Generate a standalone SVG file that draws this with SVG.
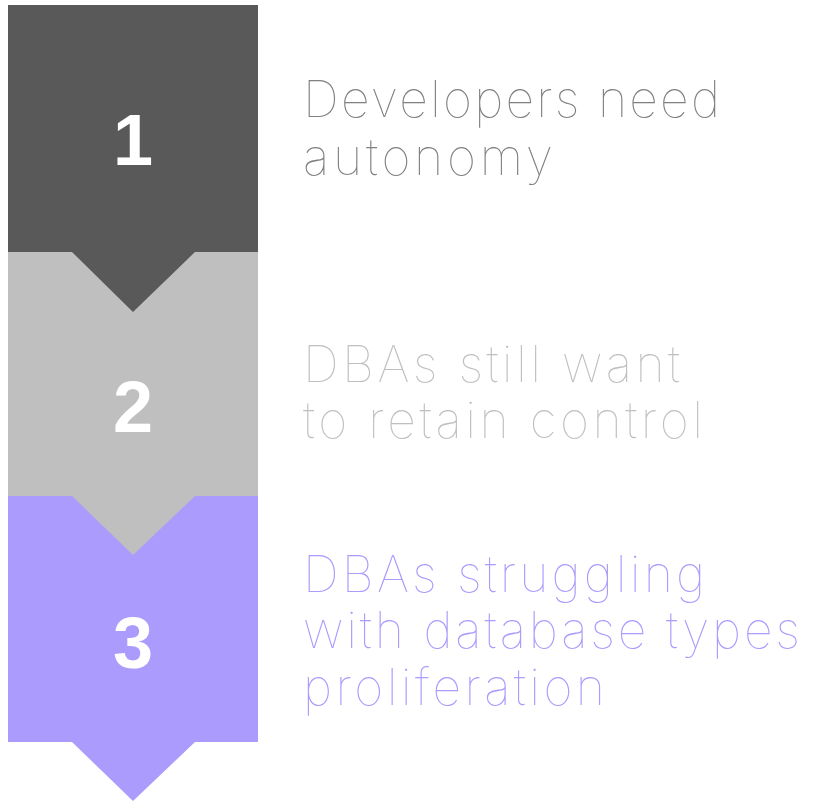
<svg xmlns="http://www.w3.org/2000/svg" width="820" height="802" viewBox="0 0 820 802">
<style>
.num{font-family:"Liberation Sans",Arial,sans-serif;font-weight:bold;font-size:72px;fill:#ffffff;text-anchor:middle}
.lbl{font-family:Inter,"Open Sans","Liberation Sans",sans-serif;font-weight:100;font-size:50px}
</style>
<rect width="820" height="802" fill="#ffffff"/>
<g id="step3">
<polygon points="8,496 258,496 258,742 195,742 133,801 72,742 8,742" fill="#ab9bfd"/>
<text class="num" x="133" y="668">3</text>
</g>
<g id="step2">
<polygon points="8,252 258,252 258,496 195,496 133,555 72,496 8,496" fill="#bfbfbf"/>
<text class="num" x="133" y="432">2</text>
</g>
<g id="step1">
<polygon points="8,5 258,5 258,252 195,252 133,312 72,252 8,252" fill="#595959"/>
<text class="num" x="133" y="165">1</text>
</g>
<g id="label1" class="lbl" fill="#808080">
<text x="303" y="117" textLength="417" lengthAdjust="spacing">Developers need</text>
<text x="303" y="175" textLength="250" lengthAdjust="spacing">autonomy</text>
</g>
<g id="label2" class="lbl" fill="#bfbfbf">
<text x="303" y="382" textLength="377" lengthAdjust="spacing">DBAs still want</text>
<text x="303" y="438" textLength="400" lengthAdjust="spacing">to retain control</text>
</g>
<g id="label3" class="lbl" fill="#ab9bfd">
<text x="303" y="592" textLength="402" lengthAdjust="spacing">DBAs struggling</text>
<text x="303" y="648" textLength="497" lengthAdjust="spacing">with database types</text>
<text x="303" y="705" textLength="302" lengthAdjust="spacing">proliferation</text>
</g>
</svg>
